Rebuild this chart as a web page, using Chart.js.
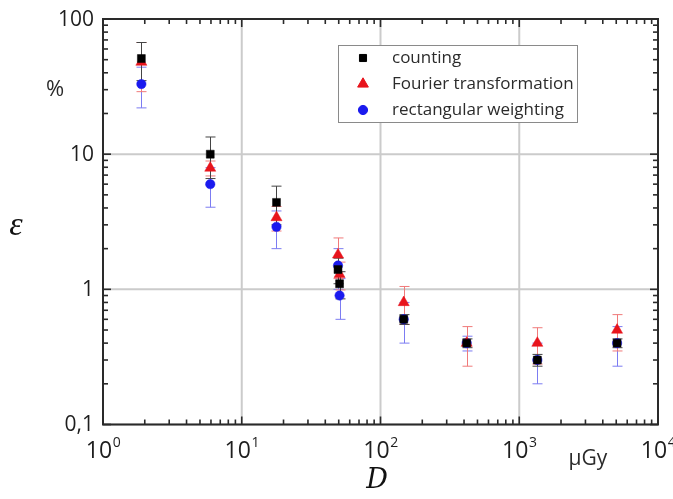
<!DOCTYPE html>
<html><head><meta charset="utf-8">
<script src="https://cdn.jsdelivr.net/npm/chart.js@4.4.0/dist/chart.umd.min.js"></script>
<style>html,body{margin:0;padding:0;background:#fff}#wrap{width:673px;height:499px}</style>
</head><body><div id="wrap"><canvas id="c" width="673" height="499"></canvas></div>
<script>
const seriesNames = ['counting', 'Fourier transformation', 'rectangular weighting'];
const doses = [1.89, 5.93, 17.8, 49.4, 50.7, 147, 418, 1350, 5070];
const counting = [51, 10, 4.4, 1.4, 1.1, 0.6, 0.4, 0.3, 0.4];
const countingErr = [16, 3.4, 1.4, 0.3, 0.25, 0.05, 0.03, 0.03, 0.03];
const fourier = [48, 7.9, 3.4, 1.8, 1.29, 0.8, 0.4, 0.4, 0.5];
const fourierErr = [19, 1.0, 0.7, 0.6, 0.3, 0.25, 0.13, 0.12, 0.15];
const rect = [33, 6.0, 2.9, 1.5, 0.9, 0.6, 0.4, 0.3, 0.4];
const rectErr = [11, 1.95, 0.9, 0.5, 0.3, 0.2, 0.05, 0.1, 0.13];
const xTickValues = [1, 10, 100, 1000, 10000];
const xTickExps = ['0', '1', '2', '3', '4'];
const yTickValues = [0.1, 1, 10, 100];
const yTickLabels = ['0,1', '1', '10', '100'];
const xUnit = 'µGy', yUnit = '%', xTitle = 'D', yTitle = 'ε';

const colors = ['#000000', '#e8141c', '#1a1aee'];
const errColors = ['#444444', '#f07a7a', '#7c7cf2'];
const styles = ['rect', 'triangle', 'circle'];
const radii = [5.6, 6.4, 4.7];
const values = [counting, fourier, rect];
const errs = [countingErr, fourierErr, rectErr];

const datasets = values.map((vals, s) => ({
  label: seriesNames[s],
  data: doses.map((x, i) => ({x: x, y: vals[i]})),
  pointStyle: styles[s], pointRadius: radii[s],
  backgroundColor: colors[s], borderColor: colors[s], borderWidth: 0.5,
  showLine: false
}));

const FONT = '"Open Sans", "Liberation Sans", sans-serif';

const decor = {
  id: 'decor',
  beforeDatasetsDraw(chart) {
    const {ctx, chartArea: a, scales: {x, y}} = chart;
    ctx.save();
    ctx.strokeStyle = '#cbcbcb'; ctx.lineWidth = 2;
    xTickValues.forEach(v => { const px = x.getPixelForValue(v); ctx.beginPath(); ctx.moveTo(px, a.top); ctx.lineTo(px, a.bottom); ctx.stroke(); });
    yTickValues.forEach(v => { const py = y.getPixelForValue(v); ctx.beginPath(); ctx.moveTo(a.left, py); ctx.lineTo(a.right, py); ctx.stroke(); });
    for (let s = values.length - 1; s >= 0; s--) {
      ctx.strokeStyle = errColors[s]; ctx.lineWidth = 1;
      doses.forEach((d, i) => {
        const px = Math.round(x.getPixelForValue(d)) + 0.5;
        const v = values[s][i], e = errs[s][i];
        const top = y.getPixelForValue(v + e);
        const bot = y.getPixelForValue(Math.max(v - e, 0.001));
        ctx.beginPath();
        ctx.moveTo(px, top); ctx.lineTo(px, bot);
        ctx.moveTo(px - 5, top); ctx.lineTo(px + 5, top);
        ctx.moveTo(px - 5, bot); ctx.lineTo(px + 5, bot);
        ctx.stroke();
      });
    }
    ctx.restore();
  },
  afterDraw(chart) {
    const {ctx, chartArea: a, scales: {x, y}} = chart;
    ctx.save();
    ctx.strokeStyle = '#2a2a2a'; ctx.lineWidth = 2;
    ctx.strokeRect(a.left, a.top, a.right - a.left, a.bottom - a.top);
    ctx.lineWidth = 1.6;
    const tick = (x1, y1, x2, y2) => { ctx.beginPath(); ctx.moveTo(x1, y1); ctx.lineTo(x2, y2); ctx.stroke(); };
    for (let k = 0; k < xTickValues.length; k++) {
      for (let m = 1; m <= 9; m++) {
        if (k === xTickValues.length - 1 && m > 1) break;
        const px = x.getPixelForValue(xTickValues[k] * m);
        const len = m === 1 ? 8 : 5;
        tick(px, a.bottom, px, a.bottom - len);
        tick(px, a.top, px, a.top + len);
      }
    }
    for (let k = 0; k < yTickValues.length; k++) {
      for (let m = 1; m <= 9; m++) {
        if (k === yTickValues.length - 1 && m > 1) break;
        const py = y.getPixelForValue(yTickValues[k] * m);
        const len = m === 1 ? 8 : 5;
        tick(a.left, py, a.left + len, py);
        tick(a.right, py, a.right - len, py);
      }
    }
    ctx.fillStyle = '#1e1e1e';
    ctx.font = '21px ' + FONT;
    ctx.textAlign = 'right'; ctx.textBaseline = 'middle';
    yTickValues.forEach((v, i) => ctx.fillText(yTickLabels[i], a.left - 9, y.getPixelForValue(v) + 1));
    xTickValues.forEach((v, i) => {
      const px = x.getPixelForValue(v);
      ctx.font = '23px ' + FONT;
      const w1 = ctx.measureText('10').width;
      ctx.font = '14px ' + FONT;
      const w2 = ctx.measureText(xTickExps[i]).width;
      const start = px - (w1 + w2) / 2;
      ctx.textAlign = 'left'; ctx.textBaseline = 'alphabetic';
      ctx.font = '23px ' + FONT;
      ctx.fillText('10', start, a.bottom + 33);
      ctx.font = '14px ' + FONT;
      ctx.fillText(xTickExps[i], start + w1 + 0.5, a.bottom + 22);
    });
    ctx.font = '21px ' + FONT; ctx.textAlign = 'center'; ctx.textBaseline = 'alphabetic';
    ctx.fillStyle = '#2a2a2a';
    ctx.fillText(xUnit, 588, 465);
    ctx.font = '22px ' + FONT;
    ctx.fillText(yUnit, 55, 96);
    ctx.fillStyle = '#111';
    ctx.font = 'italic 27px "DejaVu Serif", "Liberation Serif", serif';
    ctx.fillText(xTitle, 377, 488);
    ctx.font = 'italic 34px "Liberation Serif", "DejaVu Serif", serif';
    ctx.fillText(yTitle, 16, 235);
    const lx = 338, ly = 45, lw = 239, lh = 77;
    ctx.fillStyle = '#fff'; ctx.fillRect(lx, ly, lw, lh);
    ctx.strokeStyle = '#8a8a8a'; ctx.lineWidth = 1;
    ctx.strokeRect(lx + 0.5, ly + 0.5, lw, lh);
    const rows = [58, 84, 110];
    const lrad = [5, 6.2, 4.6];
    seriesNames.forEach((n, s) => {
      ctx.fillStyle = colors[s]; ctx.strokeStyle = colors[s];
      Chart.helpers.drawPoint(ctx, {pointStyle: styles[s], radius: lrad[s], rotation: 0, borderWidth: 0.5}, 363, rows[s]);
      ctx.fillStyle = '#2b2b2b';
      ctx.font = '17px ' + FONT; ctx.textAlign = 'left'; ctx.textBaseline = 'middle';
      ctx.fillText(n, 392, rows[s]);
    });
    ctx.restore();
  }
};

new Chart(document.getElementById('c'), {
  type: 'scatter',
  data: {datasets: datasets},
  options: {
    responsive: false, animation: false, events: [],
    layout: {padding: {left: 103, top: 19, right: 15, bottom: 74.5}},
    scales: {
      x: {type: 'logarithmic', min: 1, max: 10000, display: false},
      y: {type: 'logarithmic', min: 0.1, max: 100, display: false}
    },
    plugins: {legend: {display: false}, tooltip: {enabled: false}}
  },
  plugins: [decor]
});
</script></body></html>
